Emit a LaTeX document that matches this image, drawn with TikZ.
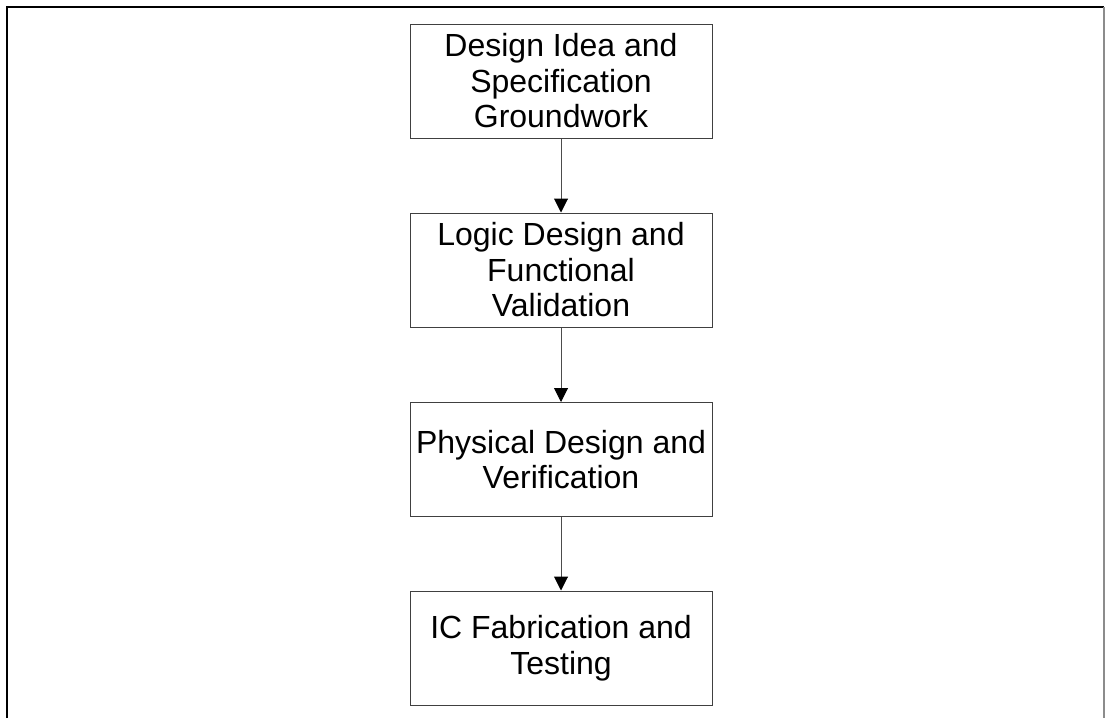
\documentclass[tikz,border=0pt]{standalone}
\usepackage{fontspec}
\setmainfont{Liberation Sans}
\usetikzlibrary{arrows.meta,positioning}
\tikzset{
  stagebox/.style={rectangle, draw=black!75, line width=1pt, fill=white, minimum width=302pt, minimum height=114pt, align=center, inner sep=0pt, font=\fontsize{32}{35.5}\selectfont},
  flow/.style={draw=black!70, line width=1pt, -{Triangle[length=14pt,width=14pt,color=black]}},
}
\begin{document}
\begin{tikzpicture}[x=1pt,y=-1pt]
  \useasboundingbox (0,0) rectangle (1105,718);
  % frame
  \draw[line width=2.5pt, black] (7,718) -- (7,7) -- (1104,7);
  \draw[line width=1.5pt, black!45] (1104,7) -- (1104,718);
  \node[stagebox] (idea) at (561,81) {Design Idea and\\Specification\\Groundwork};
  \node[stagebox] (logic) at (561,270) {Logic Design and\\Functional\\Validation};
  \node[stagebox] (phys) at (561,459.5) {Physical Design and\\Verification};
  \node[stagebox] (fab) at (561,648) {IC Fabrication and\\Testing};
  \draw[flow] (idea)--(logic); \draw[flow] (logic)--(phys); \draw[flow] (phys)--(fab);
\end{tikzpicture}
\end{document}
